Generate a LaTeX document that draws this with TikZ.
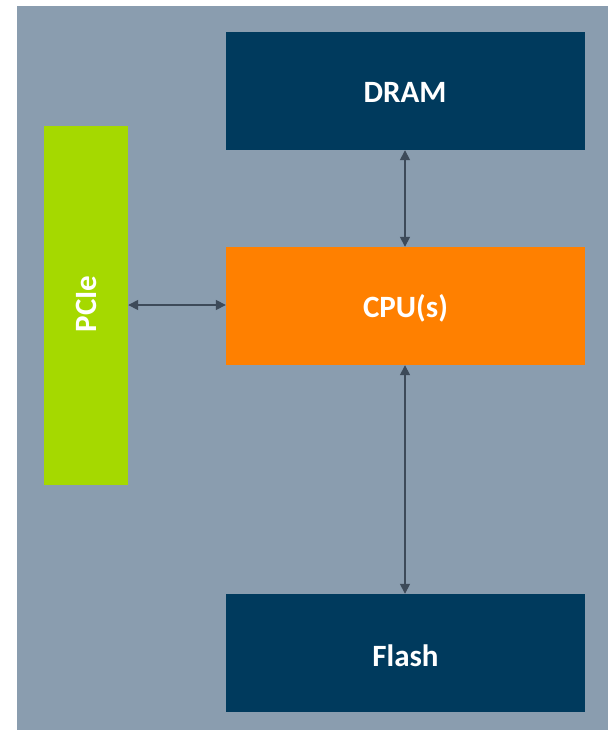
\documentclass[tikz,border=0pt]{standalone}
\usepackage{fontspec}
\setmainfont{Carlito}
\usetikzlibrary{arrows.meta}
\definecolor{bgc}{HTML}{8A9DAF}
\definecolor{navy}{HTML}{003A5D}
\definecolor{orng}{HTML}{FF8000}
\definecolor{lime}{HTML}{A5D900}
\definecolor{arr}{HTML}{3D4A59}
\tikzset{
  blk/.style={draw=none, inner sep=0pt},
  txt/.style={inner sep=0pt, font=\fontsize{31}{35}\selectfont\bfseries, text=white, text height=20pt, text depth=0pt},
  link/.style={draw=arr, line width=1.6pt, {Triangle[length=10pt,width=10pt]}-{Triangle[length=10pt,width=10pt]}}
}
\begin{document}
\begin{tikzpicture}[x=1pt,y=-1pt]
\useasboundingbox (0,0) rectangle (608,730);
\fill[white] (0,0) rectangle (608,730);
\fill[bgc] (17,6) rectangle (608,730);
\node[blk, fill=navy, minimum width=359pt, minimum height=118pt] (dram) at (405.5,91) {};
\node[blk, fill=orng, minimum width=359pt, minimum height=118pt] (cpu) at (405.5,306) {};
\node[blk, fill=navy, minimum width=359pt, minimum height=118pt] (flash) at (405.5,653) {};
\node[blk, fill=lime, minimum width=84pt, minimum height=359pt] (pcie) at (86,305.5) {};
\node[txt] (dramlbl) at (405,92.5) {DRAM};
\node[txt] (cpulbl) at (405.5,307) {CPU(s)};
\node[txt] (flashlbl) at (405.5,656.5) {Flash};
\node[txt, rotate=90] (pcielbl) at (86.5,304) {PCIe};
\draw[link] (dram.south -| 405,0) -- (cpu.north -| 405,0);
\draw[link] (cpu.south -| 405,0) -- (flash.north -| 405,0);
\draw[link] (pcie.east |- 0,305) -- (cpu.west |- 0,305);
\end{tikzpicture}
\end{document}
